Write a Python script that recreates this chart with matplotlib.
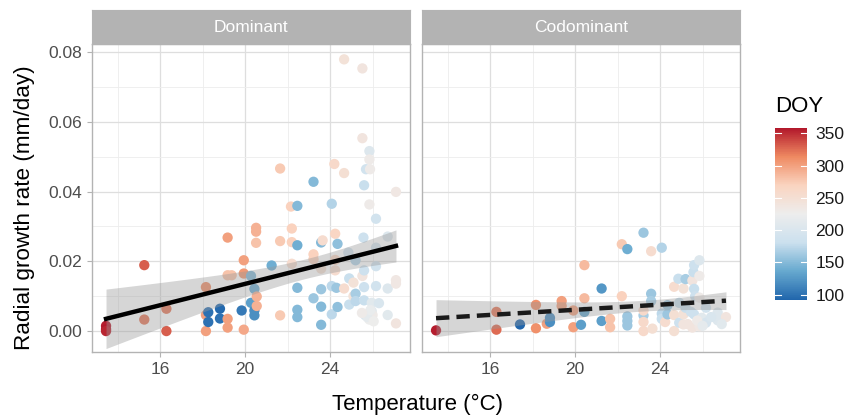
import numpy as np
import matplotlib
matplotlib.use("Agg")
import matplotlib.pyplot as plt
from matplotlib.colors import LinearSegmentedColormap, Normalize

plt.rcParams['font.family'] = ['Liberation Sans', 'DejaVu Sans']

# Dominant trees: temperature (C), radial growth rate (mm/day), day of year
temp_dom = [13.46, 13.46, 13.46, 15.26, 15.26, 16.30, 16.30, 18.16, 18.16, 18.16,
            18.27, 18.27, 18.82, 18.82, 19.18, 19.18, 19.37, 19.18, 19.18, 19.84,
            19.94, 19.94, 19.94, 20.28, 20.28, 20.44, 20.44, 20.44, 20.52, 20.52,
            20.52, 20.55, 20.55, 21.25, 21.65, 21.65, 21.65, 22.16, 22.20, 22.20,
            22.20, 22.46, 22.46, 22.46, 22.46, 22.46, 23.22, 23.22, 23.22, 23.22,
            23.58, 23.65, 23.58, 23.58, 23.58, 23.58, 24.08, 24.08, 24.08, 24.20,
            24.24, 24.24, 24.24, 24.30, 24.35, 24.35, 24.66, 24.66, 24.66, 24.86,
            24.90, 24.90, 25.10, 25.10, 25.20, 25.20, 25.20, 25.52, 25.52, 25.52,
            25.57, 25.60, 25.60, 25.60, 25.60, 25.65, 25.69, 25.85, 25.85, 25.88,
            25.85, 25.85, 25.96, 25.96, 26.00, 26.16, 26.16, 26.16, 26.16, 26.71,
            26.71, 26.71, 27.10, 27.10, 27.10, 27.10, 25.75, 25.90, 26.05, 25.50,
            26.30]
rate_dom = [0.0015, 0.0005, 0.0000, 0.0189, 0.0033, 0.0064, 0.0000, 0.0126, 0.0046, 0.0000,
            0.0054, 0.0026, 0.0064, 0.0036, 0.0268, 0.0160, 0.0160, 0.0035, 0.0010, 0.0059,
            0.0203, 0.0165, 0.0004, 0.0158, 0.0081, 0.0121, 0.0059, 0.0045, 0.0296, 0.0285,
            0.0253, 0.0099, 0.0072, 0.0188, 0.0466, 0.0258, 0.0045, 0.0357, 0.0294, 0.0255,
            0.0193, 0.0359, 0.0246, 0.0124, 0.0061, 0.0040, 0.0428, 0.0220, 0.0206, 0.0094,
            0.0254, 0.0260, 0.0179, 0.0120, 0.0070, 0.0018, 0.0365, 0.0129, 0.0048, 0.0479,
            0.0279, 0.0204, 0.0174, 0.0124, 0.0250, 0.0069, 0.0779, 0.0453, 0.0122, 0.0225,
            0.0151, 0.0076, 0.0139, 0.0100, 0.0203, 0.0107, 0.0086, 0.0753, 0.0553, 0.0158,
            0.0268, 0.0418, 0.0174, 0.0126, 0.0088, 0.0046, 0.0464, 0.0516, 0.0492, 0.0464,
            0.0363, 0.0033, 0.0081, 0.0057, 0.0046, 0.0322, 0.0186, 0.0129, 0.0239, 0.0271,
            0.0122, 0.0046, 0.0399, 0.0146, 0.0136, 0.0022, 0.0040, 0.0060, 0.0028, 0.0052,
            0.0080]
doy_dom = [355, 358, 352, 330, 320, 320, 330, 310, 300, 300,
           100, 100, 95, 100, 300, 280, 280, 300, 300, 105,
           300, 305, 295, 150, 130, 140, 120, 120, 290, 290,
           280, 290, 290, 140, 275, 275, 275, 270, 270, 270,
           255, 150, 140, 150, 150, 150, 150, 270, 270, 160,
           150, 255, 250, 160, 150, 150, 170, 175, 175, 260,
           265, 265, 255, 160, 155, 155, 245, 250, 255, 190,
           180, 180, 245, 245, 170, 165, 175, 240, 240, 240,
           185, 180, 185, 185, 180, 190, 190, 205, 230, 230,
           230, 225, 210, 210, 230, 190, 190, 190, 195, 205,
           205, 210, 235, 235, 235, 240, 215, 220, 225, 230,
           200]

# Codominant trees
temp_cod = [13.46, 16.30, 16.30, 17.41, 18.16, 18.16, 18.67, 18.82, 18.82, 19.37,
            19.37, 19.92, 19.92, 20.28, 20.44, 20.44, 20.44, 21.25, 21.25, 21.65,
            21.65, 22.20, 22.20, 22.46, 22.46, 22.46, 22.46, 23.22, 23.22, 23.22,
            23.22, 23.22, 23.58, 23.58, 23.58, 23.64, 24.08, 24.08, 24.08, 24.24,
            24.35, 24.35, 24.66, 24.66, 24.66, 24.86, 24.90, 24.90, 25.10, 25.10,
            25.10, 25.20, 25.20, 25.52, 25.52, 25.57, 25.60, 25.60, 25.60, 25.65,
            25.85, 25.85, 25.85, 25.85, 25.96, 26.16, 26.16, 26.71, 26.71, 27.10,
            25.30, 25.75, 26.00, 26.40, 25.45, 26.90]
rate_cod = [0.0002, 0.0055, 0.0004, 0.0019, 0.0075, 0.0008, 0.0021, 0.0038, 0.0026, 0.0086,
            0.0072, 0.0059, 0.0011, 0.0018, 0.0189, 0.0094, 0.0055, 0.0122, 0.0029, 0.0035,
            0.0011, 0.0249, 0.0100, 0.0235, 0.0042, 0.0029, 0.0016, 0.0282, 0.0045, 0.0059,
            0.0026, 0.0000, 0.0229, 0.0107, 0.0086, 0.0007, 0.0239, 0.0050, 0.0035, 0.0026,
            0.0074, 0.0048, 0.0127, 0.0046, 0.0000, 0.0150, 0.0081, 0.0024, 0.0122, 0.0048,
            0.0019, 0.0149, 0.0067, 0.0145, 0.0010, 0.0169, 0.0189, 0.0121, 0.0048, 0.0100,
            0.0203, 0.0158, 0.0096, 0.0014, 0.0038, 0.0067, 0.0024, 0.0053, 0.0031, 0.0040,
            0.0020, 0.0030, 0.0015, 0.0040, 0.0055, 0.0020]
doy_cod = [355, 320, 325, 92, 310, 310, 300, 120, 120, 300,
           300, 300, 300, 130, 285, 285, 135, 125, 130, 280,
           280, 275, 270, 140, 160, 160, 160, 160, 165, 260,
           260, 260, 255, 160, 165, 250, 170, 175, 180, 255,
           160, 160, 255, 250, 250, 180, 180, 185, 245, 245,
           240, 165, 180, 240, 240, 180, 185, 180, 185, 185,
           205, 230, 230, 235, 210, 190, 195, 205, 205, 240,
           240, 230, 215, 200, 185, 210]

panels = ["Dominant", "Codominant"]

cmap = LinearSegmentedColormap.from_list(
    "rdbu7", ['#2166AC', '#67A9CF', '#CBE0EE', '#EDEDED', '#FAD4C0', '#EF8A62', '#B2182B'])
all_doy = doy_dom + doy_cod
norm = Normalize(vmin=min(all_doy), vmax=max(all_doy))


def lm_band(x, y, xs, tval=1.98):
    x = np.asarray(x)
    y = np.asarray(y)
    b, a = np.polyfit(x, y, 1)
    resid = y - (a + b * x)
    n = len(x)
    s = np.sqrt(np.sum(resid ** 2) / (n - 2))
    se = s * np.sqrt(1 / n + (xs - x.mean()) ** 2 / np.sum((x - x.mean()) ** 2))
    fit = a + b * xs
    return fit, fit - tval * se, fit + tval * se


fig = plt.figure(figsize=(8.48, 4.19), dpi=100)
W, H = 848, 419
lefts = [92, 422]
pw = 318
top, bot = 44, 352

datasets = [(temp_dom, rate_dom, doy_dom, '-'), (temp_cod, rate_cod, doy_cod, (0, (3, 1.6)))]

for i, (t, r, d, ls) in enumerate(datasets):
    ax = fig.add_axes([lefts[i] / W, 1 - bot / H, pw / W, (bot - top) / H])
    ax.set_xlim(12.8, 27.76)
    ax.set_ylim(-0.006, 0.0823)
    ax.set_xticks([16, 20, 24])
    ax.set_xticks([14, 18, 22, 26], minor=True)
    ax.set_yticks([0, 0.02, 0.04, 0.06, 0.08])
    ax.set_yticks([0.01, 0.03, 0.05, 0.07], minor=True)
    ax.grid(True, which='major', color='#DEDEDE', lw=0.9)
    ax.grid(True, which='minor', color='#EDEDED', lw=0.6)
    ax.set_axisbelow(True)
    for sp in ax.spines.values():
        sp.set_color('#B3B3B3')
        sp.set_linewidth(1.0)
    ax.tick_params(which='major', length=3.5, color='#B3B3B3', labelsize=12.5, labelcolor='#4D4D4D')
    ax.tick_params(which='minor', length=0)
    if i == 0:
        ax.set_yticklabels(['0.00', '0.02', '0.04', '0.06', '0.08'])
    else:
        ax.set_yticklabels([])
        ax.tick_params(axis='y', which='major', length=0)

    ax.scatter(t, r, c=d, cmap=cmap, norm=norm, s=55, edgecolors='none', zorder=2)

    xs = np.linspace(min(t), max(t), 80)
    fit, lo, hi = lm_band(t, r, xs)
    ax.fill_between(xs, lo, hi, color='#999999', alpha=0.4, lw=0, zorder=3)
    ax.plot(xs, fit, color='black' if i == 0 else '#1a1a1a', lw=3.2, ls=ls, zorder=4)

    # facet strip
    sax = fig.add_axes([lefts[i] / W, 1 - top / H, pw / W, 34 / H])
    sax.set_facecolor('#B3B3B3')
    sax.set_xticks([])
    sax.set_yticks([])
    for sp in sax.spines.values():
        sp.set_color('#B3B3B3')
    sax.text(0.5, 0.5, panels[i], color='white', fontsize=12.5, ha='center', va='center',
             transform=sax.transAxes)

fig.text(25 / W, 1 - 208 / H, 'Radial growth rate (mm/day)', rotation=90,
         ha='center', va='center', fontsize=16.2)
fig.text(417 / W, 1 - 404 / H, 'Temperature (°C)', ha='center', va='center', fontsize=16)

# colour bar
cax = fig.add_axes([775 / W, 1 - 300 / H, 32 / W, 172 / H])
cb = fig.colorbar(plt.cm.ScalarMappable(norm=norm, cmap=cmap), cax=cax)
cb.outline.set_visible(False)
cb.set_ticks([100, 150, 200, 250, 300, 350])
cax.tick_params(length=0, labelsize=12.5, labelcolor='#1a1a1a', pad=6)
for v in [100, 150, 200, 250, 300, 350]:
    cax.plot([0, 0.2], [v, v], color='white', lw=0.8)
    cax.plot([0.8, 1.0], [v, v], color='white', lw=0.8)
cax.set_xlim(0, 1)
fig.text(775 / W, 1 - 106 / H, 'DOY', ha='left', va='center', fontsize=16)

fig.savefig('out.png', dpi=100)
